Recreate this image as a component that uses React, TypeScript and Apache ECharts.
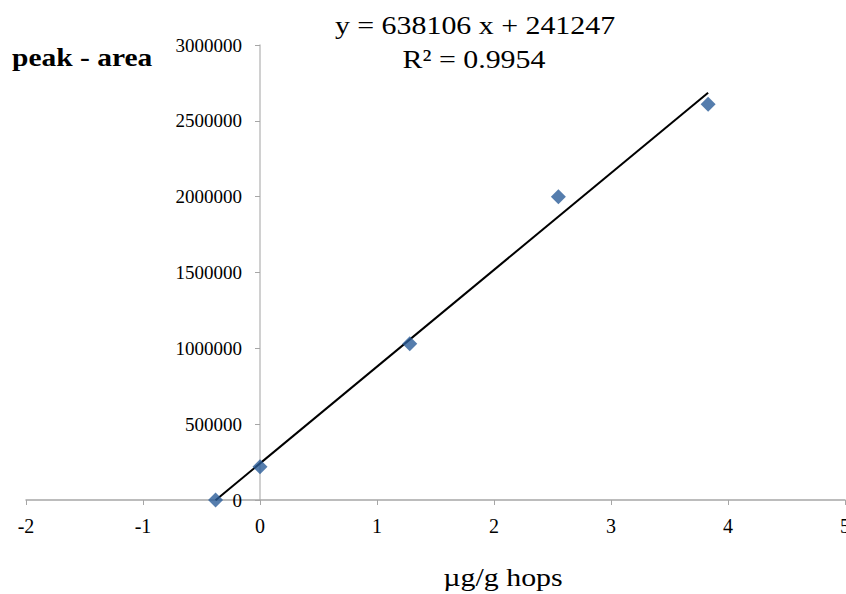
import React, { useEffect, useRef } from "react";
import * as echarts from "echarts";

const xValues = [-0.38, 0, 1.28, 2.55, 3.83];
const yValues = [0, 220000, 1030000, 2000000, 2610000];
const slope = 638106;
const intercept = 241247;
const trendRange = [-0.38, 3.83];
const equationText = "y = 638106 x + 241247";
const r2Text = "R² = 0.9954";
const yAxisTitle = "peak - area";
const xAxisTitle = "µg/g hops";

const X_MIN = -2;
const X_MAX = 5;
const GRID_LEFT = 26;
const GRID_RIGHT = 1;
const WIDTH = 846;

export default function App() {
  const ref = useRef<HTMLDivElement>(null);
  useEffect(() => {
    const chart = echarts.init(ref.current!, null, { renderer: "svg" });
    const font = "Liberation Serif";
    const trend = trendRange.map((x) => [x, slope * x + intercept]);
    const unit = (WIDTH - GRID_LEFT - GRID_RIGHT) / (X_MAX - X_MIN);
    const yOffset = -(0 - X_MIN) * unit;
    const stretch = 1.15;
    const textStyle = { fill: "#000", fontFamily: font, fontSize: 26, textAlign: "center", textVerticalAlign: "middle" };
    chart.setOption({
      animation: false,
      grid: { left: GRID_LEFT, right: GRID_RIGHT, top: 45, bottom: 94, containLabel: false, outerBoundsMode: "none" },
      xAxis: {
        type: "value",
        min: X_MIN,
        max: X_MAX,
        interval: 1,
        axisLine: { onZero: true, lineStyle: { color: "#a6a6a6", width: 1.5 } },
        axisTick: { show: true, length: 5, lineStyle: { color: "#a6a6a6" } },
        axisLabel: { color: "#000", fontFamily: font, fontSize: 20, margin: 16, formatter: (v: number) => String(v) },
        splitLine: { show: false },
      },
      yAxis: {
        type: "value",
        min: 0,
        max: 3000000,
        interval: 500000,
        position: "left",
        offset: yOffset,
        axisLine: { show: true, onZero: false, lineStyle: { color: "#c0c0c0", width: 1.5 } },
        axisTick: { show: true, length: 5, lineStyle: { color: "#a6a6a6" } },
        axisLabel: { color: "#000", fontFamily: font, fontSize: 19, margin: 18, formatter: (v: number) => String(v) },
        splitLine: { show: false },
      },
      series: [
        {
          type: "line",
          data: trend,
          symbol: "none",
          lineStyle: { color: "#000", width: 2 },
          z: 2,
        },
        {
          type: "scatter",
          data: xValues.map((x, i) => [x, yValues[i]]),
          symbol: "diamond",
          symbolSize: [15, 15],
          itemStyle: { color: "#2B5C98" },
          z: 3,
        },
      ],
      graphic: [
        {
          type: "text",
          x: 12,
          y: 58,
          scaleX: 1.18,
          style: { text: yAxisTitle, fill: "#000", fontFamily: font, fontSize: 25, fontWeight: "bold", textVerticalAlign: "middle" },
        },
        { type: "text", x: 475, y: 25, scaleX: stretch, style: { ...textStyle, text: equationText } },
        { type: "text", x: 474, y: 59, scaleX: stretch, style: { ...textStyle, text: r2Text } },
        { type: "text", x: 503, y: 577, scaleX: stretch, style: { ...textStyle, text: xAxisTitle } },
      ],
    });
    return () => chart.dispose();
  }, []);
  return <div ref={ref} style={{ width: 846, height: 594, position: "absolute", left: 0, top: 0 }} />;
}
